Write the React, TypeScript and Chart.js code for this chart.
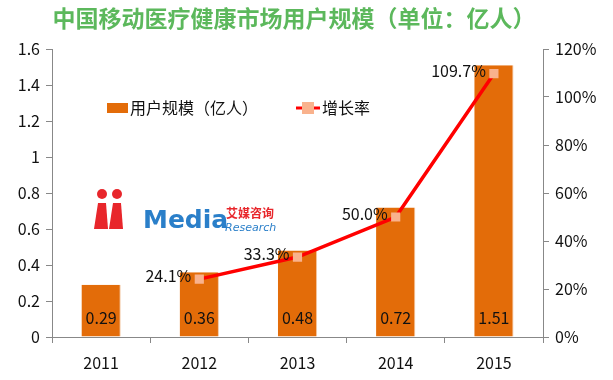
import React, { useEffect, useRef } from "react";
import { Chart, registerables } from "chart.js";

Chart.register(...registerables);

const categories = ["2011", "2012", "2013", "2014", "2015"];
const users = [0.29, 0.36, 0.48, 0.72, 1.51];
const growth = [null, 24.1, 33.3, 50.0, 109.7];
const growthLabels = ["", "24.1%", "33.3%", "50.0%", "109.7%"];
const titleText = "中国移动医疗健康市场用户规模（单位：亿人）";
const barLabel = "用户规模（亿人）";
const lineLabel = "增长率";

const FONT = "'Noto Sans CJK SC', 'DejaVu Sans', sans-serif";

const App: React.FC = () => {
  const ref = useRef<HTMLCanvasElement | null>(null);

  useEffect(() => {
    document.body.style.margin = "0";
    const canvas = ref.current;
    if (!canvas) return;

    const decor = {
      id: "decor",
      beforeDatasetsDraw(chart: any) {
        const ctx = chart.ctx;
        ctx.save();
        // watermark logo
        const lx = 93, ly = 189;
        ctx.fillStyle = "#e8262b";
        ctx.beginPath(); ctx.arc(lx + 9, ly + 5, 5, 0, Math.PI * 2); ctx.fill();
        ctx.beginPath(); ctx.arc(lx + 24, ly + 5, 5, 0, Math.PI * 2); ctx.fill();
        ctx.beginPath();
        ctx.moveTo(lx + 5, ly + 14); ctx.lineTo(lx + 13, ly + 14); ctx.lineTo(lx + 15, ly + 40); ctx.lineTo(lx + 1, ly + 40); ctx.closePath(); ctx.fill();
        ctx.beginPath();
        ctx.moveTo(lx + 20, ly + 14); ctx.lineTo(lx + 28, ly + 14); ctx.lineTo(lx + 30, ly + 40); ctx.lineTo(lx + 16, ly + 40); ctx.closePath(); ctx.fill();
        ctx.fillStyle = "#2a7fc9";
        ctx.font = "bold 25px 'DejaVu Sans', sans-serif";
        ctx.textBaseline = "alphabetic";
        ctx.textAlign = "left";
        ctx.fillText("Media", 143, 228);
        ctx.fillStyle = "#e8262b";
        ctx.font = "bold 12px 'Noto Sans CJK SC', sans-serif";
        ctx.fillText("艾媒咨询", 226, 218);
        ctx.fillStyle = "#2a7fc9";
        ctx.font = "italic 11px 'DejaVu Sans', sans-serif";
        ctx.fillText("Research", 225, 231);
        ctx.restore();
      },
      afterDraw(chart: any) {
        const ctx = chart.ctx;
        ctx.save();
        // title
        ctx.fillStyle = "#5cb85c";
        ctx.font = `bold 23px ${FONT}`;
        ctx.textAlign = "center";
        ctx.textBaseline = "middle";
        ctx.fillText(titleText, 294, 18);

        // bar labels
        const barMeta = chart.getDatasetMeta(0);
        ctx.fillStyle = "#111";
        ctx.font = `16px ${FONT}`;
        ctx.textAlign = "center";
        ctx.textBaseline = "middle";
        barMeta.data.forEach((el: any, i: number) => {
          ctx.fillText(users[i].toFixed(2), el.x, 318);
        });

        // line labels
        const lineMeta = chart.getDatasetMeta(1);
        ctx.textAlign = "right";
        lineMeta.data.forEach((el: any, i: number) => {
          if (growth[i] == null) return;
          ctx.fillText(growthLabels[i], el.x - 8, el.y - 3);
        });

        // legend
        const ly = 108;
        ctx.fillStyle = "#e36c09";
        ctx.fillRect(107, ly - 5, 21, 10);
        ctx.fillStyle = "#111";
        ctx.textAlign = "left";
        ctx.font = `16px ${FONT}`;
        ctx.fillText(barLabel, 130, ly);
        ctx.strokeStyle = "#ff0000";
        ctx.lineWidth = 3;
        ctx.beginPath(); ctx.moveTo(296, ly); ctx.lineTo(320, ly); ctx.stroke();
        ctx.fillStyle = "#f9b28d";
        ctx.fillRect(302, ly - 6, 12, 12);
        ctx.fillStyle = "#111";
        ctx.fillText(lineLabel, 322, ly);
        ctx.restore();
      },
    };

    const chart = new Chart(canvas, {
      type: "bar",
      data: {
        labels: categories,
        datasets: [
          {
            type: "bar",
            label: barLabel,
            data: users,
            backgroundColor: "#e36c09",
            borderColor: "#f3c9a6",
            borderWidth: { left: 0, right: 1, top: 0, bottom: 0 } as any,
            barPercentage: 0.4,
            categoryPercentage: 1,
            yAxisID: "y",
            order: 2,
          },
          {
            type: "line",
            label: lineLabel,
            data: growth as any,
            borderColor: "#ff0000",
            borderWidth: 3.5,
            pointStyle: "rect",
            pointRadius: 6.5,
            pointBackgroundColor: "#f9b28d",
            pointBorderColor: "#f9b28d",
            pointBorderWidth: 0,
            yAxisID: "y2",
            order: 1,
            spanGaps: false,
          } as any,
        ],
      },
      options: {
        responsive: false,
        animation: false,
        layout: { padding: { top: 49, left: 0, right: 0, bottom: 0 } },
        plugins: {
          legend: { display: false },
          title: { display: false },
          tooltip: { enabled: false },
        },
        scales: {
          x: {
            grid: { display: true, offset: true, drawOnChartArea: false, tickLength: 6, color: "#888" },
            border: { color: "#888", width: 1 },
            ticks: { color: "#111", font: { size: 16, family: FONT }, padding: 10 },
            afterFit: (s: any) => { s.height = 43; },
          },
          y: {
            position: "left",
            min: 0,
            max: 1.6,
            ticks: {
              stepSize: 0.2,
              color: "#111",
              font: { size: 16, family: FONT },
              padding: 6,
              callback: (v: any) => String(Math.round(Number(v) * 10) / 10),
            },
            grid: { drawOnChartArea: false, tickLength: 6, color: "#888" },
            border: { color: "#888", width: 1 },
            afterFit: (s: any) => { s.width = 52; },
          },
          y2: {
            position: "right",
            min: 0,
            max: 120,
            ticks: {
              stepSize: 20,
              color: "#111",
              font: { size: 16, family: FONT },
              padding: 6,
              callback: (v: any) => `${v}%`,
            },
            grid: { drawOnChartArea: false, tickLength: 6, color: "#888" },
            border: { color: "#888", width: 1 },
            afterFit: (s: any) => { s.width = 70; },
          },
        },
      },
      plugins: [decor],
    });

    return () => chart.destroy();
  }, []);

  return (
    <div style={{ width: 613, height: 380, background: "#fff" }}>
      <canvas ref={ref} width={613} height={380} style={{ display: "block" }} />
    </div>
  );
};

export default App;
